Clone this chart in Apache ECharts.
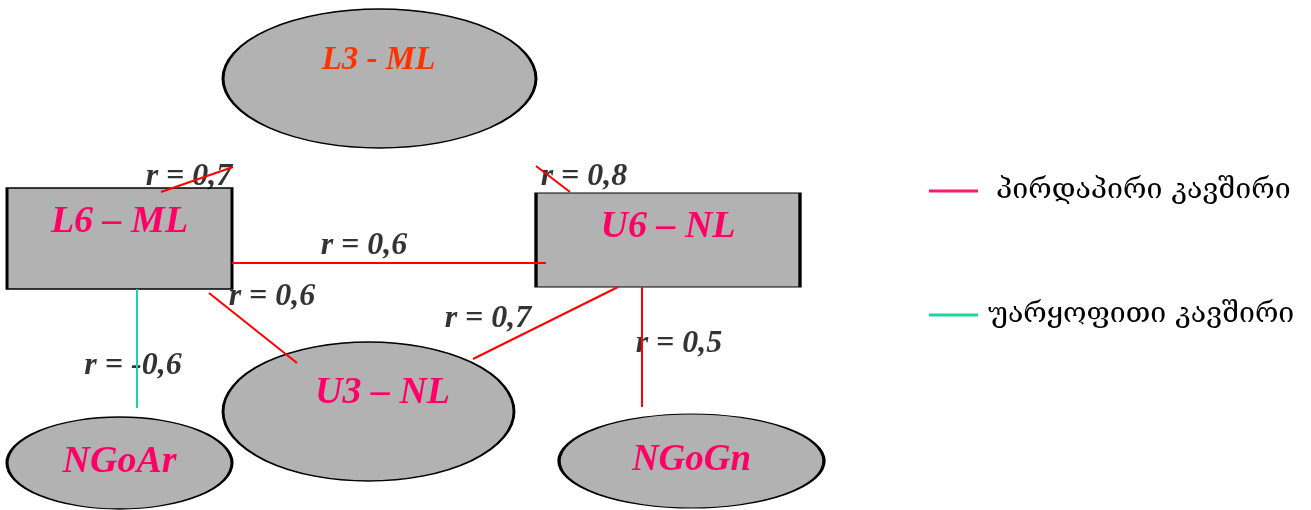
<!DOCTYPE html>
<html>
<head>
<meta charset="utf-8">
<script src="https://cdn.jsdelivr.net/npm/echarts@6/dist/echarts.min.js"></script>
<style>
  html, body { margin: 0; padding: 0; background: #ffffff; }
  #chart { width: 1311px; height: 510px; }
</style>
</head>
<body>
<div id="chart"></div>
<script>
// ---- Diagram data (diagram units match the 1311 x 510 drawing space) ----
const nodeNames = ['L3 - ML', 'L6 – ML', 'U6 – NL', 'U3 – NL', 'NGoAr', 'NGoGn'];
const nodeCentres = [[379.5, 78.5], [119.5, 238.5], [668, 240], [368.5, 411.5], [119.5, 463], [691.5, 461]];
const nodeShapes = ['ellipse', 'rect', 'rect', 'ellipse', 'ellipse', 'ellipse'];

const positiveLinks = [
  [[161, 192], [233, 167]],
  [[536, 166], [570, 192]],
  [[232, 263], [546, 263]],
  [[209, 293], [297, 363]],
  [[618, 287], [473, 359]],
  [[642, 287], [642, 407]]
];
const negativeLinks = [
  [[137, 289], [137, 408]]
];

const corrLabels = ['r = 0,7', 'r = 0,8', 'r = 0,6', 'r = 0,6', 'r = 0,7', 'r = 0,5', 'r = -0,6'];
const corrLabelAnchors = [[189, 177], [584, 177], [364, 246], [272, 297], [488, 319], [679, 344], [133, 366]];

const legendNames = ['პირდაპირი კავშირი', 'უარყოფითი კავშირი'];

// ---- Presentation (sizes/styles kept separate from data) ----
const nodeSizes = [[313, 139], [225, 101], [264, 94], [291, 139], [225, 92], [265, 94]];
const nodeLabelOffsets = [[-1, -18], [0, -16], [0, -13], [14, -18], [0, -1], [0, -1]];
const nodeLabelColors = ['#FF3300', '#FF0066', '#FF0066', '#FF0066', '#FF0066', '#FF0066'];
const nodeLabelSizes = [33, 38, 38, 38, 38, 37];

const serif = 'Liberation Serif, Times New Roman, serif';
const positiveLegendColor = '#FF1A6E';
const negativeColor = '#1FD3A0';

const nodeData = nodeNames.map((n, i) => ({
  name: n,
  value: nodeCentres[i],
  symbol: nodeShapes[i] === 'rect' ? 'rect' : 'circle',
  symbolSize: nodeSizes[i],
  label: {
    offset: nodeLabelOffsets[i],
    color: nodeLabelColors[i],
    fontSize: nodeLabelSizes[i]
  }
}));

const corrData = corrLabels.map((t, i) => ({ name: t, value: corrLabelAnchors[i] }));

const chart = echarts.init(document.getElementById('chart'), null, { renderer: 'canvas' });
chart.setOption({
  backgroundColor: '#ffffff',
  animation: false,
  grid: { left: 0, right: 0, top: 0, bottom: 0 },
  xAxis: { type: 'value', min: 0, max: 1311, show: false },
  yAxis: { type: 'value', min: 0, max: 510, inverse: true, show: false },
  legend: {
    orient: 'vertical',
    left: 929,
    top: 174,
    padding: 0,
    itemWidth: 49,
    itemHeight: 3,
    itemGap: 90,
    selectedMode: false,
    textStyle: {
      fontFamily: 'DejaVu Serif, DejaVu Sans, serif',
      fontSize: 28.5,
      color: '#000000',
      lineHeight: 30
    },
    data: [
      { name: legendNames[0], icon: 'rect', textStyle: { padding: [4, 0, 0, 13] } },
      { name: legendNames[1], icon: 'rect', textStyle: { padding: [4, 0, 0, 5] } }
    ]
  },
  series: [
    {
      type: 'scatter',
      name: 'nodes',
      z: 1,
      data: nodeData,
      itemStyle: { color: '#B2B2B2', borderColor: '#000000', borderWidth: 2, opacity: 1 },
      emphasis: { disabled: true },
      label: {
        show: true,
        position: 'inside',
        formatter: p => p.name,
        fontFamily: serif,
        fontStyle: 'italic',
        fontWeight: 'bold',
        textShadowColor: 'rgba(0,0,0,0.18)',
        textShadowOffsetX: 2,
        textShadowOffsetY: 2,
        textShadowBlur: 0
      }
    },
    {
      type: 'scatter',
      name: 'corr',
      z: 2,
      symbolSize: 0,
      data: corrData,
      emphasis: { disabled: true },
      label: {
        show: true,
        position: 'inside',
        formatter: p => p.name,
        fontFamily: serif,
        fontStyle: 'italic',
        fontWeight: 'bold',
        fontSize: 32,
        color: '#000000',
        textShadowColor: 'rgba(0,0,0,0.2)',
        textShadowOffsetX: 2,
        textShadowOffsetY: 2,
        textShadowBlur: 0
      }
    },
    {
      type: 'lines',
      name: 'positive links',
      coordinateSystem: 'cartesian2d',
      z: 3,
      data: positiveLinks.map(c => ({ coords: c })),
      lineStyle: { color: '#FF0000', width: 2, opacity: 1 },
      emphasis: { disabled: true }
    },
    {
      type: 'lines',
      name: 'negative links',
      coordinateSystem: 'cartesian2d',
      z: 3,
      data: negativeLinks.map(c => ({ coords: c })),
      lineStyle: { color: negativeColor, width: 2, opacity: 1 },
      emphasis: { disabled: true }
    },
    // legend entries (no marks of their own)
    { type: 'line', name: legendNames[0], data: [], color: positiveLegendColor, itemStyle: { color: positiveLegendColor } },
    { type: 'line', name: legendNames[1], data: [], color: negativeColor, itemStyle: { color: negativeColor } }
  ]
});
</script>
</body>
</html>
